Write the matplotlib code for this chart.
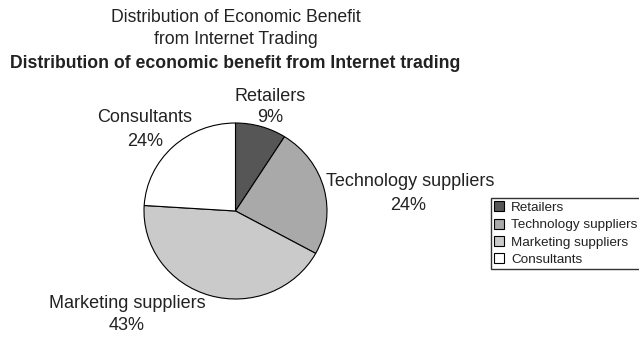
import matplotlib
matplotlib.use('Agg')
import matplotlib.pyplot as plt

plt.rcParams['font.family'] = ['Liberation Sans', 'DejaVu Sans']

categories = ['Retailers', 'Technology suppliers', 'Marketing suppliers', 'Consultants']
shares = [9, 24, 43, 24]
colors = ['#565656', '#a9a9a9', '#cacaca', '#ffffff']

W, H = 639, 337
fig = plt.figure(figsize=(W / 100, H / 100), dpi=100)

# pie axes placed in pixel terms (left, bottom, width, height)
ax = fig.add_axes([144 / W, 38 / H, 183 / W, 176 / H])
wedges, _ = ax.pie(shares, colors=colors, startangle=90, counterclock=False,
                   radius=1, wedgeprops=dict(edgecolor='black', linewidth=0.8))
ax.set_xlim(-1, 1)
ax.set_ylim(-1, 1)
ax.set_aspect('auto')
ax.axis('off')

# label positions (name line centre, percent line centre) in pixels
label_pos = [((270, 96), (270, 118)),
             ((410, 182), (408, 205)),
             ((127, 303), (127, 325)),
             ((145, 118), (145, 142))]
txt = '#222222'
for name, val, (p1, p2) in zip(categories, shares, label_pos):
    fig.text(p1[0] / W, 1 - p1[1] / H, name, ha='center', va='center', fontsize=13, color=txt)
    fig.text(p2[0] / W, 1 - p2[1] / H, f'{val}%', ha='center', va='center', fontsize=13, color=txt)

fig.text(236 / W, 1 - 17 / H, 'Distribution of Economic Benefit', ha='center', va='center',
         fontsize=12.7, color=txt)
fig.text(236 / W, 1 - 39 / H, 'from Internet Trading', ha='center', va='center',
         fontsize=12.7, color=txt)
fig.text(235 / W, 1 - 63 / H, 'Distribution of economic benefit from Internet trading',
         ha='center', va='center', fontsize=12.7, fontweight='bold', color=txt)

leg = fig.legend(wedges, categories, loc='upper left', bbox_to_anchor=(491 / W, 1 - 198 / H),
                 fontsize=9.7, frameon=True, fancybox=False, handlelength=0.75,
                 handleheight=0.75, handletextpad=0.5, borderpad=0.25, labelspacing=0.35,
                 borderaxespad=0)
leg.get_frame().set_edgecolor('black')
leg.get_frame().set_linewidth(1.0)
for t in leg.get_texts():
    t.set_color(txt)
for h in leg.legend_handles:
    h.set_edgecolor('black')
    h.set_linewidth(0.8)

fig.savefig('out.png', dpi=100)
